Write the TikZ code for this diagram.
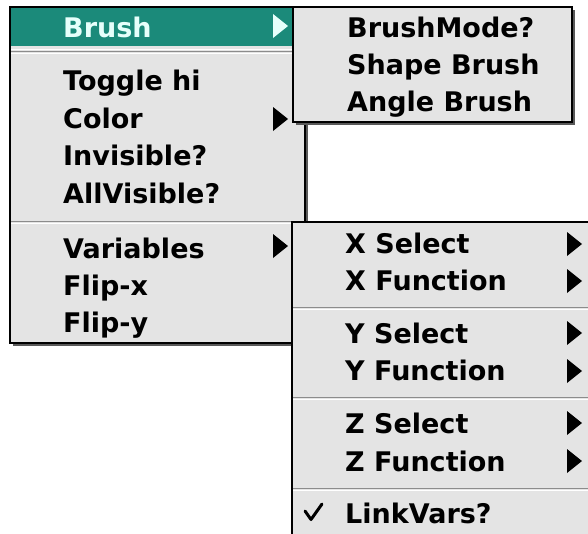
\documentclass[tikz,border=0pt]{standalone}
\usepackage{fontspec}
\setmainfont{DejaVu Sans}
\definecolor{menubg}{HTML}{E4E4E4}
\definecolor{hilite}{HTML}{1B8A7A}
\definecolor{hitext}{HTML}{E6FFFB}
\definecolor{sepgrey}{HTML}{8C8C8C}
\begin{document}
\begin{tikzpicture}[x=1pt,y=-1pt,
  menubox/.style={fill=menubg, draw=black, line width=1.3pt},
  menushadow/.style={fill=black!65},
  item/.style={anchor=base west, inner sep=0pt, text=black,
    font=\bfseries\fontsize{27}{32}\selectfont},
  sepline/.style={draw=sepgrey, line width=1pt},
  seplight/.style={draw=white, line width=0.8pt},
  subtri/.pic={\fill[pic actions] (-7.5,-12) -- (7.5,0) -- (-7.5,12) -- cycle;}]
\clip (0,0) rectangle (588,533);
\fill[white] (0,0) rectangle (588,533);

% ---- main menu ----
\fill[menushadow] (12.5,9.5) rectangle (307.5,345.5);
\draw[menubox] (10,7) rectangle (305,343);
\fill[hilite] (10.7,7.7) rectangle (293,46);
\draw[seplight] (11,49.5) -- (304,49.5);
\draw[sepline] (11,51.5) -- (304,51.5);
\draw[seplight] (11,53) -- (304,53);
\draw[sepline] (11,221.5) -- (304,221.5);
\draw[seplight] (11,223) -- (304,223);

\node[item, text=hitext] (brush) at (63,37) {Brush};
\node[item] (toggle) at (63,90) {Toggle hi};
\node[item] (color) at (63,128) {Color};
\node[item] (invis) at (63,165) {Invisible?};
\node[item] (allvis) at (63,203) {AllVisible?};
\node[item] (vars) at (63,258) {Variables};
\node[item] (flipx) at (63,295) {Flip-x};
\node[item] (flipy) at (63,332) {Flip-y};

\pic[fill=hitext] at (280.5,26) {subtri};
\pic[fill=black] at (280.5,119) {subtri};
\pic[fill=black] at (280.5,246) {subtri};

% ---- Variables submenu ----
\fill[menushadow] (294.5,224.5) rectangle (600,560);
\draw[menubox] (292,222) rectangle (598,556);
\draw[sepline] (293,307.5) -- (598,307.5);
\draw[seplight] (293,309) -- (598,309);
\draw[sepline] (293,397.5) -- (598,397.5);
\draw[seplight] (293,399) -- (598,399);
\draw[sepline] (293,488.5) -- (598,488.5);
\draw[seplight] (293,490) -- (598,490);

\node[item] (xsel) at (345,253) {X Select};
\node[item] (xfun) at (345,290) {X Function};
\node[item] (ysel) at (345,343) {Y Select};
\node[item] (yfun) at (345,380) {Y Function};
\node[item] (zsel) at (345,433) {Z Select};
\node[item] (zfun) at (345,471) {Z Function};
\node[item] (link) at (345,523) {LinkVars?};

\foreach \yy in {244,281,333,371,423,461}
  \pic[fill=black] at (574.5,\yy) {subtri};

% check mark in front of LinkVars?
\draw[line width=3pt, line cap=round, line join=round]
  (305,511) -- (311,519.5) -- (322,504);

% ---- Brush submenu ----
\fill[menushadow] (295.5,9.5) rectangle (574.5,124.5);
\draw[menubox] (293,7) rectangle (572,122);
\node[item] (bmode) at (347,37) {BrushMode?};
\node[item] (shape) at (347,74) {Shape Brush};
\node[item] (angle) at (347,111) {Angle Brush};
\end{tikzpicture}
\end{document}
